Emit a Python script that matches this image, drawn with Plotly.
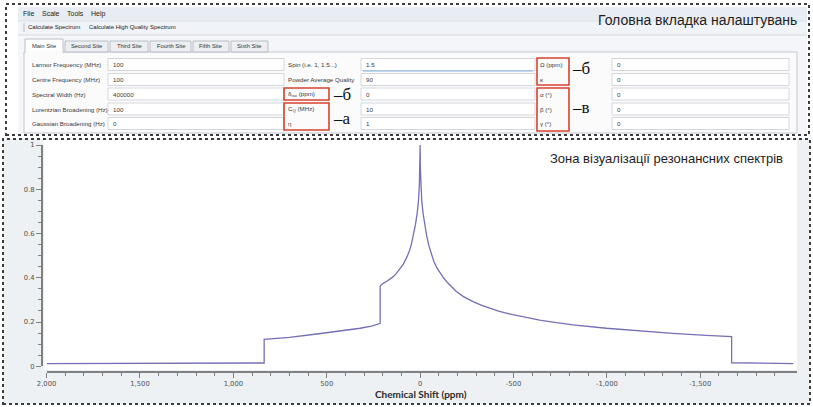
import plotly.graph_objects as go

W, H = 813, 407

# Simulated quadrupolar powder spectrum: chemical shift (ppm) and normalised intensity
shift_ppm = [2000, 1600, 1200, 835, 835, 700, 553, 420, 321, 260, 214, 214, 198, 180, 163,
             145, 127, 110, 90, 73, 60, 47, 35, 25, 16, 9, 4, 1, 0, -1, -4, -9, -16, -25,
             -35, -47, -60, -73, -90, -104, -125, -150, -175, -194, -230, -283, -330, -370,
             -420, -461, -550, -640, -730, -818, -997, -1175, -1353, -1532, -1668, -1668,
             -1800, -1998]
intensity = [0.012, 0.013, 0.014, 0.015, 0.122, 0.131, 0.146, 0.160, 0.172, 0.181, 0.194,
             0.363, 0.375, 0.383, 0.392, 0.404, 0.420, 0.438, 0.462, 0.490, 0.515, 0.550,
             0.595, 0.640, 0.690, 0.745, 0.820, 0.900, 1.000, 0.900, 0.820, 0.745, 0.690,
             0.640, 0.590, 0.545, 0.505, 0.475, 0.445, 0.425, 0.400, 0.375, 0.352, 0.338,
             0.316, 0.292, 0.275, 0.262, 0.249, 0.240, 0.223, 0.209, 0.197, 0.187, 0.172,
             0.160, 0.149, 0.140, 0.134, 0.016, 0.014, 0.012]

x_tick_vals = [2000, 1500, 1000, 500, 0, -500, -1000, -1500]
x_tick_text = ["2,000", "1,500", "1,000", "500", "0", "-500", "-1,000", "-1,500"]
x_minor_vals = [v for v in range(2000, -2000, -100) if v % 500 != 0]
y_tick_vals = [0, 0.2, 0.4, 0.6, 0.8, 1]
y_tick_text = ["0", "0.2", "0.4", "0.6", "0.8", "1"]
y_minor_vals = [0.05, 0.1, 0.15, 0.25, 0.3, 0.35, 0.45, 0.5, 0.55, 0.65, 0.7, 0.75, 0.85, 0.9, 0.95]

# Settings panel contents
menu_items = ["File", "Scale", "Tools", "Help"]
toolbar_items = ["Calculate Spectrum", "Calculate High Quality Spectrum"]
tab_names = ["Main Site", "Second Site", "Third Site", "Fourth Site", "Fifth Site", "Sixth Site"]
col1_labels = ["Larmor Frequency (MHz)", "Centre Frequency (MHz)", "Spectral Width (Hz)",
               "Lorentzian Broadening (Hz)", "Gaussian Broadening (Hz)"]
col1_values = ["100", "100", "400000", "100", "0"]
col2_labels = ["Spin (i.e. 1, 1.5...)", "Powder Average Quality", "δ<sub>iso</sub> (ppm)",
               "C<sub>Q</sub> (MHz)", "η"]
col2_values = ["1.5", "90", "0", "10", "1"]
col3_labels = ["Ω (ppm)", "κ", "α (°)", "β (°)", "γ (°)"]
col3_values = ["0", "0", "0", "0", "0"]
panel_title = "Головна вкладка налаштувань"
plot_title = "Зона візуалізації резонансних спектрів"
callouts = ["–б", "–а", "–б", "–в"]

UI_FONT = "Liberation Sans"


def px(x):
    return x / W


def py(y):
    return 1 - y / H


shapes = []
annotations = []


def rect(x0, y0, x1, y1, fill=None, line=None, width=1.0, dash=None, layer="below"):
    ln = dict(width=width if line else 0, color=line or "rgba(0,0,0,0)")
    if dash:
        ln["dash"] = dash
    shapes.append(dict(type="rect", xref="paper", yref="paper",
                       x0=px(x0), x1=px(x1), y0=py(y1), y1=py(y0),
                       fillcolor=fill or "rgba(0,0,0,0)", line=ln, layer=layer))


def line(x0, y0, x1, y1, color, width=1.0):
    shapes.append(dict(type="line", xref="paper", yref="paper",
                       x0=px(x0), x1=px(x1), y0=py(y0), y1=py(y1),
                       line=dict(color=color, width=width), layer="below"))


def text(x, y, s, size, color="#333333", family=UI_FONT, anchor="left"):
    annotations.append(dict(x=px(x), y=py(y), xref="paper", yref="paper", text=s,
                            showarrow=False, xanchor=anchor, yanchor="middle",
                            font=dict(size=size, color=color, family=family),
                            borderpad=0))


# ---- settings panel (top) ----
rect(18, 7, 807, 134, fill="#f4f6f9")
rect(18, 7, 807, 21, fill="#e8edf4")
rect(18, 21, 807, 35, fill="#f0f3f7")
line(18, 35, 807, 35, "#d4d9e0")
line(18, 21, 807, 21, "#dde3ea")

menu_x = [22, 41, 66, 90]
for name, x in zip(menu_items, menu_x):
    text(x, 14, name, 7, "#222222")
tool_x = [27, 88]
for name, x in zip(toolbar_items, tool_x):
    text(x, 27.5, name, 6, "#222222")
line(24, 23, 24, 32, "#bbbbbb")

# group box with the parameter form
rect(24, 52, 797, 133, fill="#fbfbfc", line="#c4c8ce", width=1)

tab_x = [(25, 63), (65, 108), (110, 148), (150, 191), (193, 229), (231, 268)]
for i, (name, (x0, x1)) in enumerate(zip(tab_names, tab_x)):
    if i == 0:
        rect(x0, 39, x1, 53, fill="#ffffff", line="#b9bec5", width=1)
        rect(x0 + 0.5, 51, x1 - 0.5, 54, fill="#fbfbfc")
    else:
        rect(x0, 41, x1, 52, fill="#eceef2", line="#b9bec5", width=1)
    text((x0 + x1) / 2, 46.5, name, 5.8, "#333333", anchor="center")

row_y = [64.5, 79.5, 94, 109, 123.5]
columns = [
    (31, 108, 284, col1_labels, col1_values),
    (287, 361, 535, col2_labels, col2_values),
    (539, 612, 789, col3_labels, col3_values),
]
for lab_x, in0, in1, labels, values in columns:
    for y, lab, val in zip(row_y, labels, values):
        rect(in0, y - 6, in1, y + 6, fill="#ffffff", line="#d3d7dc", width=1)
        text(lab_x, y, lab, 6.2, "#3a3a3a")
        text(in0 + 4, y, val, 6.2, "#3a3a3a")
# focused input underline
line(363, 71, 533, 71, "#86b4e0", 1.2)

# highlighted parameter groups
RED = "#d8432f"
for x0, y0, x1, y1 in [(284, 88, 329, 100), (284, 103, 329, 130),
                       (537, 58, 569, 85), (537, 88, 569, 131)]:
    rect(x0, y0, x1, y1, line=RED, width=1.6, layer="above")

callout_pos = [(332, 94), (332, 118), (571, 68), (571, 108)]
for s, (x, y) in zip(callouts, callout_pos):
    text(x, y, s, 17, "#111111", family="Liberation Serif")

text(597, 19.5, panel_title, 14, "#1e1e1e")

# ---- plot panel (bottom) ----
rect(3, 139, 810, 404, fill="#eef1f4")
rect(44, 140, 797, 370, fill="#ffffff")
text(549, 158, plot_title, 13, "#1e1e1e")

# dotted frames around both panels
rect(6, 4, 809, 135, line="#3c3c3c", width=2, dash="dot", layer="above")
rect(3, 139, 810, 404, line="#3c3c3c", width=2, dash="dot", layer="above")

fig = go.Figure()
fig.add_trace(go.Scatter(
    x=shift_ppm, y=intensity, mode="lines",
    line=dict(color="#746fb6", width=1.3),
    hoverinfo="skip",
))

AXIS = "#808080"
TICKFONT = dict(family="DejaVu Sans", size=6.8, color="#505050")

fig.update_layout(
    width=W, height=H,
    margin=dict(l=0, r=0, t=0, b=0, autoexpand=False),
    paper_bgcolor="#ffffff",
    plot_bgcolor="rgba(0,0,0,0)",
    showlegend=False,
    shapes=shapes,
    annotations=annotations,
    xaxis=dict(
        domain=[px(46.6), px(797)],
        range=[2000, -2018],
        anchor="free", position=py(372),
        automargin=False,
        showgrid=False, zeroline=False,
        showline=True, linecolor=AXIS, linewidth=2,
        tickmode="array", tickvals=x_tick_vals, ticktext=x_tick_text,
        ticks="outside", ticklen=5, tickwidth=1, tickcolor=AXIS,
        tickfont=TICKFONT,
        minor=dict(tickmode="array", tickvals=x_minor_vals, ticks="outside",
                   ticklen=3, tickwidth=1, tickcolor=AXIS),
    ),
    yaxis=dict(
        domain=[py(366.3), py(145)],
        range=[0, 1],
        anchor="free", position=px(42),
        automargin=False,
        showgrid=False, zeroline=False,
        showline=True, linecolor=AXIS, linewidth=2,
        tickmode="array", tickvals=y_tick_vals, ticktext=y_tick_text,
        ticks="outside", ticklen=5, tickwidth=1, tickcolor=AXIS,
        tickfont=TICKFONT,
        minor=dict(tickmode="array", tickvals=y_minor_vals, ticks="outside",
                   ticklen=3, tickwidth=1, tickcolor=AXIS),
    ),
)

fig.add_annotation(x=px(421), y=py(393.5), xref="paper", yref="paper",
                   text="<b>Chemical Shift (ppm)</b>", showarrow=False,
                   xanchor="center", yanchor="middle",
                   font=dict(family="Lato", size=10, color="#2a2a2a"))

fig.write_html("out.html")
